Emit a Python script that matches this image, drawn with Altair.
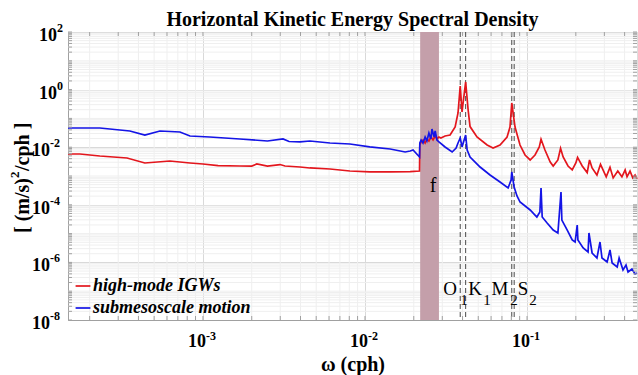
import altair as alt
import pandas as pd

# ---------------- data ----------------
red_w = [1.47e-4, 1.74e-4, 2.31e-4, 3.40e-4, 4.38e-4, 6.25e-4, 8.32e-4, 1.0e-3, 1.24e-3,
         1.69e-3, 2.0e-3, 2.15e-3, 2.5e-3, 2.99e-3, 3.21e-3, 3.97e-3, 4.57e-3, 6.08e-3,
         8.07e-3, 1.07e-2, 1.43e-2, 1.90e-2, 2.17e-2,
         0.0218, 0.0222, 0.0228, 0.0235, 0.0241, 0.0248, 0.0255, 0.0263, 0.0271, 0.0278,
         0.0286, 0.0294, 0.0312, 0.0335, 0.0360, 0.0375, 0.0387, 0.0397, 0.0418, 0.0433,
         0.0445, 0.0491, 0.0567, 0.0617, 0.0681, 0.0753, 0.0785, 0.0805, 0.0843, 0.0905,
         0.0972, 0.1045, 0.112, 0.119, 0.122, 0.129, 0.139, 0.145, 0.155, 0.161, 0.167,
         0.179, 0.190, 0.200, 0.205, 0.219, 0.235, 0.243, 0.252, 0.270, 0.284, 0.308,
         0.325, 0.340, 0.363, 0.385, 0.403, 0.414, 0.432, 0.449, 0.464, 0.477]
red_e = [5.8e-3, 5.8e-3, 4.94e-3, 4.22e-3, 2.83e-3, 3.32e-3, 2.83e-3, 2.61e-3, 2.3e-3,
         2.22e-3, 2.22e-3, 2.61e-3, 2.22e-3, 2.5e-3, 2.22e-3, 2.05e-3, 1.9e-3, 1.75e-3,
         1.49e-3, 1.38e-3, 1.38e-3, 1.43e-3, 1.49e-3,
         0.0119, 0.0152, 0.0178, 0.0140, 0.0193, 0.0164, 0.0226, 0.0178, 0.0245, 0.0193,
         0.0226, 0.0209, 0.0245, 0.0265, 0.0502, 0.154, 1.33, 0.167, 1.84, 0.196,
         0.052, 0.0226, 0.0119, 9.38e-3, 0.0119, 0.0226, 0.0502, 0.343, 0.0502, 0.0119,
         5.36e-3, 3.60e-3, 5.36e-3, 0.0102, 0.0189, 8.0e-3, 3.06e-3, 2.22e-3, 3.60e-3, 9.2e-3, 4.57e-3,
         2.22e-3, 1.62e-3, 2.83e-3, 4.4e-3, 2.22e-3, 1.31e-3, 3.60e-3, 1.9e-3, 1.08e-3, 2.55e-3, 9.4e-4,
         2.0e-3, 8.6e-4, 1.49e-3, 9.4e-4, 1.62e-3, 9.4e-4, 1.49e-3, 8.6e-4, 1.08e-3, 7.87e-4]

blue_w = [1.47e-4, 2.31e-4, 3.54e-4, 4.38e-4, 5.43e-4, 7.21e-4, 8.32e-4, 1.10e-3, 1.69e-3,
          2.5e-3, 3.12e-3, 3.4e-3, 3.97e-3, 4.57e-3, 6.08e-3, 8.07e-3, 1.07e-2, 1.43e-2,
          1.77e-2, 1.90e-2, 1.98e-2, 2.17e-2,
          0.0218, 0.0222, 0.0228, 0.0235, 0.0241, 0.0248, 0.0255, 0.0259, 0.0267, 0.0271,
          0.0278, 0.0286, 0.0312, 0.0345, 0.0365, 0.0375, 0.0387, 0.0397, 0.0418, 0.0427,
          0.0445, 0.0513, 0.0591, 0.0681, 0.0764, 0.0797, 0.0805, 0.0832, 0.0867, 0.0905,
          0.1045, 0.115, 0.120, 0.122, 0.124, 0.133, 0.145, 0.155, 0.162, 0.164, 0.177,
          0.190, 0.198, 0.204, 0.206, 0.222, 0.238, 0.241, 0.252, 0.270, 0.282, 0.290,
          0.312, 0.325, 0.335, 0.360, 0.370, 0.391, 0.408, 0.420, 0.444, 0.464, 0.477]
blue_e = [0.0464, 0.0464, 0.0365, 0.0265, 0.0365, 0.0337, 0.0245, 0.0226, 0.0193,
          0.0164, 0.0193, 0.0158, 0.0152, 0.0164, 0.0140, 0.0129, 0.0102, 8.65e-3,
          6.81e-3, 7.38e-3, 8.0e-3, 4.57e-3,
          0.0140, 0.0178, 0.0140, 0.0226, 0.0164, 0.0311, 0.0193, 0.0429, 0.0226, 0.0365,
          0.0178, 0.0152, 0.0102, 6.81e-3, 9.38e-3, 0.0140, 0.0209, 0.0102, 0.0265, 8.0e-3,
          4.57e-3, 2.05e-3, 1.08e-3, 6.19e-4, 3.83e-4, 7.26e-4, 1.38e-3, 4.15e-4, 2.02e-4, 1.25e-4,
          6.6e-5, 3.77e-5, 5.62e-5, 3.83e-4, 3.77e-5, 2.33e-5, 1.33e-5, 1.05e-5, 2.78e-4, 2.96e-5, 1.33e-5,
          6.0e-6, 5.11e-6, 1.99e-5, 6.0e-6, 3.16e-6, 2.30e-6, 1.05e-5, 2.12e-6, 1.42e-6, 5.11e-6, 1.42e-6,
          1.03e-6, 2.70e-6, 9.53e-7, 6.92e-7, 1.42e-6, 5.45e-7, 8.12e-7, 4.64e-7, 5.90e-7, 3.96e-7, 4.29e-7]

series_names = ["high-mode IGWs", "submesoscale motion"]
series_colors = ["#e3161d", "#1414e6"]

f_band = [0.0219, 0.0286]
tide_freqs = [0.0387, 0.0418, 0.0805, 0.0833]
tide_letters = ["O", "K", "M", "S"]
tide_letter_w = [0.0335, 0.0478, 0.0681, 0.0944]
tide_subs = ["1", "1", "2", "2"]
tide_sub_w = [0.0409, 0.0567, 0.0832, 0.109]
tide_letter_e = 7.4e-8
tide_sub_e = 3.3e-8
f_label_w = 0.0263
f_label_e = 2.8e-4

x_domain = [1.47e-4, 0.477]
y_domain = [1e-8, 1e2]
x_ticks = [1e-3, 1e-2, 1e-1]
x_tick_exp = ["-3", "-2", "-1"]
y_ticks_pos = [1e2, 1e0]
y_tick_exp_pos = ["2", "0"]
y_ticks_neg = [1e-2, 1e-4, 1e-6, 1e-8]
y_tick_exp_neg = ["-2", "-4", "-6", "-8"]
y_ticks = y_ticks_pos + y_ticks_neg
y_title_parts = ["[ (m/s)", "2", "/cph ]"]

x_minor = [m * 10.0 ** k for k in range(-4, 0) for m in range(1, 10)
           if x_domain[0] < m * 10.0 ** k < x_domain[1] and (m * 10.0 ** k) not in x_ticks]
y_minor = [m * 10.0 ** k for k in range(-8, 2) for m in range(1, 10)
           if m * 10.0 ** k not in y_ticks]
x_all_ticks = sorted(x_minor + x_ticks)
y_all_ticks = sorted(y_minor + y_ticks)

# ---------------- tables ----------------
df = pd.concat([
    pd.DataFrame({"w": red_w, "e": red_e, "series": series_names[0], "i": range(len(red_w))}),
    pd.DataFrame({"w": blue_w, "e": blue_e, "series": series_names[1], "i": range(len(blue_w))}),
])
band_df = pd.DataFrame({"lo": [f_band[0]], "hi": [f_band[1]]})
tide_df = pd.DataFrame({"w": tide_freqs})
letters_df = pd.DataFrame({"w": tide_letter_w, "e": tide_letter_e, "t": tide_letters})
subs_df = pd.DataFrame({"w": tide_sub_w, "e": tide_sub_e, "t": tide_subs})
f_df = pd.DataFrame({"w": [f_label_w], "e": [f_label_e], "t": ["f"]})
xmin_df = pd.DataFrame({"w": x_minor})
ymin_df = pd.DataFrame({"e": y_minor})
xt_df = pd.DataFrame({"w": x_all_ticks})
yt_df = pd.DataFrame({"e": y_all_ticks})
xlab_df = pd.DataFrame({"w": x_ticks, "base": "10", "ex": x_tick_exp})
ylab_pos_df = pd.DataFrame({"e": y_ticks_pos, "base": "10", "ex": y_tick_exp_pos})
ylab_neg_df = pd.DataFrame({"e": y_ticks_neg, "base": "10", "ex": y_tick_exp_neg})
yt1_df = pd.DataFrame({"t": [y_title_parts[0]]})
yt2_df = pd.DataFrame({"t": [y_title_parts[1]]})
yt3_df = pd.DataFrame({"t": [y_title_parts[2]]})

FONT = "Liberation Serif"
AXC = "#a0a0a0"
xs = alt.Scale(type="log", domain=x_domain, nice=False)
ys = alt.Scale(type="log", domain=y_domain, nice=False)

x_axis = alt.Axis(values=x_ticks, labels=False, title="ω (cph)", grid=True, gridColor="#d9d9d9",
                  ticks=False, titleFont=FONT, titleFontSize=20, titleFontWeight="bold",
                  titleColor="black", titlePadding=34, domainColor=AXC)
y_axis = alt.Axis(values=y_ticks, labels=False, title=None, grid=True,
                  gridColor="#d9d9d9", ticks=False, domainColor=AXC)

minor_x = alt.Chart(xmin_df).mark_rule(color="#efefef", strokeWidth=1).encode(
    x=alt.X("w:Q", scale=xs, axis=x_axis))
minor_y = alt.Chart(ymin_df).mark_rule(color="#efefef", strokeWidth=1).encode(
    y=alt.Y("e:Q", scale=ys, axis=y_axis))

# inward tick marks on all four sides
tick_bot = alt.Chart(xt_df).mark_rule(color=AXC).encode(
    x=alt.X("w:Q", scale=xs), y=alt.value(288), y2=alt.value(284))
tick_top = alt.Chart(xt_df).mark_rule(color=AXC).encode(
    x=alt.X("w:Q", scale=xs), y=alt.value(0), y2=alt.value(4))
tick_left = alt.Chart(yt_df).mark_rule(color=AXC).encode(
    y=alt.Y("e:Q", scale=ys), x=alt.value(0), x2=alt.value(4))
tick_right = alt.Chart(yt_df).mark_rule(color=AXC).encode(
    y=alt.Y("e:Q", scale=ys), x=alt.value(569), x2=alt.value(565))

band = alt.Chart(band_df).mark_rect(color="#c49faa", opacity=1).encode(
    x=alt.X("lo:Q", scale=xs), x2="hi:Q")

tides = alt.Chart(tide_df).mark_rule(color="#4a4a4a", strokeWidth=1, strokeDash=[5, 3]).encode(
    x=alt.X("w:Q", scale=xs))

lines = alt.Chart(df).mark_line(strokeWidth=1.7).encode(
    x=alt.X("w:Q", scale=xs),
    y=alt.Y("e:Q", scale=ys),
    order="i:Q",
    color=alt.Color("series:N", scale=alt.Scale(domain=series_names, range=series_colors),
                    legend=alt.Legend(title=None, orient="none", legendX=6, legendY=245,
                                      symbolType="stroke", symbolStrokeWidth=1.7, symbolSize=220,
                                      labelFont=FONT, labelFontSize=18, labelFontWeight="bold",
                                      labelFontStyle="italic", labelColor="black",
                                      rowPadding=4, labelOffset=1, padding=0)),
)

letters = alt.Chart(letters_df).mark_text(font=FONT, fontSize=19, color="black",
                                          baseline="alphabetic").encode(
    x=alt.X("w:Q", scale=xs), y=alt.Y("e:Q", scale=ys), text="t:N")
subs = alt.Chart(subs_df).mark_text(font=FONT, fontSize=15, color="black",
                                    baseline="alphabetic").encode(
    x=alt.X("w:Q", scale=xs), y=alt.Y("e:Q", scale=ys), text="t:N")
flab = alt.Chart(f_df).mark_text(font=FONT, fontSize=20, color="black",
                                 baseline="alphabetic").encode(
    x=alt.X("w:Q", scale=xs), y=alt.Y("e:Q", scale=ys), text="t:N")

# tick labels "10" with superscript exponents
def base_lab(data, enc, **kw):
    return alt.Chart(data).mark_text(font=FONT, fontSize=18, fontWeight="bold", color="black",
                                     baseline="middle", **kw).encode(text="base:N", **enc)


def exp_lab(data, enc, **kw):
    return alt.Chart(data).mark_text(font=FONT, fontSize=12, fontWeight="bold", color="black",
                                     baseline="middle", **kw).encode(text="ex:N", **enc)


ylab = [
    base_lab(ylab_pos_df, dict(y=alt.Y("e:Q", scale=ys), x=alt.value(-11)), align="right", dy=4),
    exp_lab(ylab_pos_df, dict(y=alt.Y("e:Q", scale=ys), x=alt.value(-11)), align="left", dy=-4),
    base_lab(ylab_neg_df, dict(y=alt.Y("e:Q", scale=ys), x=alt.value(-18)), align="right", dy=4),
    exp_lab(ylab_neg_df, dict(y=alt.Y("e:Q", scale=ys), x=alt.value(-18)), align="left", dy=-4),
]
xlab = [
    base_lab(xlab_df, dict(x=alt.X("w:Q", scale=xs), y=alt.value(288)), align="right", dx=3, dy=22),
    exp_lab(xlab_df, dict(x=alt.X("w:Q", scale=xs), y=alt.value(288)), align="left", dx=3, dy=16),
]

# rotated y-axis title with a real superscript
ytitle = [
    alt.Chart(yt1_df).mark_text(font=FONT, fontSize=20, fontWeight="bold", color="black",
                                angle=270, align="right", baseline="middle").encode(
        text="t:N", x=alt.value(-45), y=alt.value(146)),
    alt.Chart(yt2_df).mark_text(font=FONT, fontSize=13, fontWeight="bold", color="black",
                                angle=270, align="left", baseline="middle", dy=-8).encode(
        text="t:N", x=alt.value(-45), y=alt.value(146)),
    alt.Chart(yt3_df).mark_text(font=FONT, fontSize=20, fontWeight="bold", color="black",
                                angle=270, align="left", baseline="middle").encode(
        text="t:N", x=alt.value(-45), y=alt.value(139)),
]

chart = alt.layer(minor_x, minor_y, band, tides, lines, letters, subs, flab,
                  tick_bot, tick_top, tick_left, tick_right, *ylab, *xlab, *ytitle).properties(
    width=569, height=288,
    title=alt.Title("Horizontal Kinetic Energy Spectral Density", font=FONT, fontSize=20,
                    fontWeight="bold", color="black", anchor="middle", offset=6, dy=14),
    autosize=alt.AutoSizeParams(type="none"),
    padding={"left": 68, "top": 32, "right": 1, "bottom": 55},
).configure_view(stroke=AXC).configure(background="white")

chart.save("out.html", embed_options={"renderer": "svg", "actions": False})
